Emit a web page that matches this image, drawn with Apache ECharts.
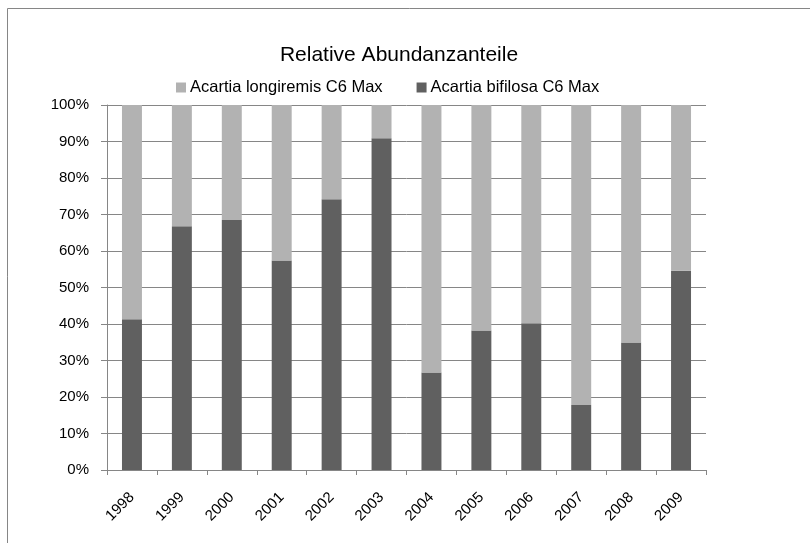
<!DOCTYPE html>
<html>
<head>
<meta charset="utf-8">
<script src="https://cdn.jsdelivr.net/npm/echarts@6/dist/echarts.min.js"></script>
<style>
  html, body { margin: 0; padding: 0; background: #fff; }
  #chart { width: 810px; height: 543px; }
</style>
</head>
<body>
<div id="chart"></div>
<script>
// years on the x axis
const years = ['1998', '1999', '2000', '2001', '2002', '2003', '2004', '2005', '2006', '2007', '2008', '2009']
// share of Acartia bifilosa (dark, bottom), percent
const bifilosa = [41.3, 66.8, 68.5, 57.4, 74.2, 90.9, 26.7, 38.2, 40.2, 17.8, 34.9, 54.6]
// share of Acartia longiremis (light, top), percent
const longiremis = [58.7, 33.2, 31.5, 42.6, 25.8, 9.1, 73.3, 61.8, 59.8, 82.2, 65.1, 45.4]

const font = 'Liberation Sans'
const grey = '#868686'

const chart = echarts.init(document.getElementById('chart'))
chart.setOption({
  animation: false,
  backgroundColor: '#fff',
  title: {
    text: 'Relative Abundanzanteile',
    left: 394,
    textAlign: 'center',
    top: 40,
    textStyle: { fontFamily: font, fontSize: 21, fontWeight: 'normal', color: '#000' },
  },
  legend: {
    top: 74,
    left: 171,
    itemWidth: 10,
    itemHeight: 10,
    itemGap: 34,
    icon: 'rect',
    textStyle: { fontFamily: font, fontSize: 16.5, color: '#000', padding: [0, 0, 0, -1] },
    data: ['Acartia longiremis C6 Max', 'Acartia bifilosa C6 Max'],
  },
  grid: { left: 107, top: 105, width: 599, height: 365, containLabel: false },
  xAxis: {
    type: 'category',
    data: years,
    axisLine: { lineStyle: { color: grey } },
    axisTick: { show: true, length: 5, lineStyle: { color: grey } },
    axisLabel: { rotate: 45, margin: 25, fontFamily: font, fontSize: 15, color: '#000' },
  },
  yAxis: {
    type: 'value',
    min: 0,
    max: 100,
    interval: 10,
    axisLine: { show: true, lineStyle: { color: grey } },
    axisTick: { show: true, length: 6, lineStyle: { color: grey } },
    splitLine: { lineStyle: { color: grey } },
    axisLabel: { formatter: '{value}%', margin: 18, fontFamily: font, fontSize: 15, color: '#000' },
  },
  series: [
    {
      name: 'Acartia bifilosa C6 Max',
      type: 'bar',
      stack: 'total',
      barWidth: '40%',
      data: bifilosa,
      itemStyle: { color: '#606060' },
    },
    {
      name: 'Acartia longiremis C6 Max',
      type: 'bar',
      stack: 'total',
      barWidth: '40%',
      data: longiremis,
      itemStyle: { color: '#b2b2b2' },
    },
  ],
  graphic: [
    {
      type: 'rect',
      shape: { x: 7.5, y: 8.5, width: 900, height: 700 },
      style: { fill: 'none', stroke: grey, lineWidth: 1 },
      silent: true,
    },
  ],
})
window.addEventListener('resize', () => {
  chart.resize()
})
</script>
</body>
</html>
